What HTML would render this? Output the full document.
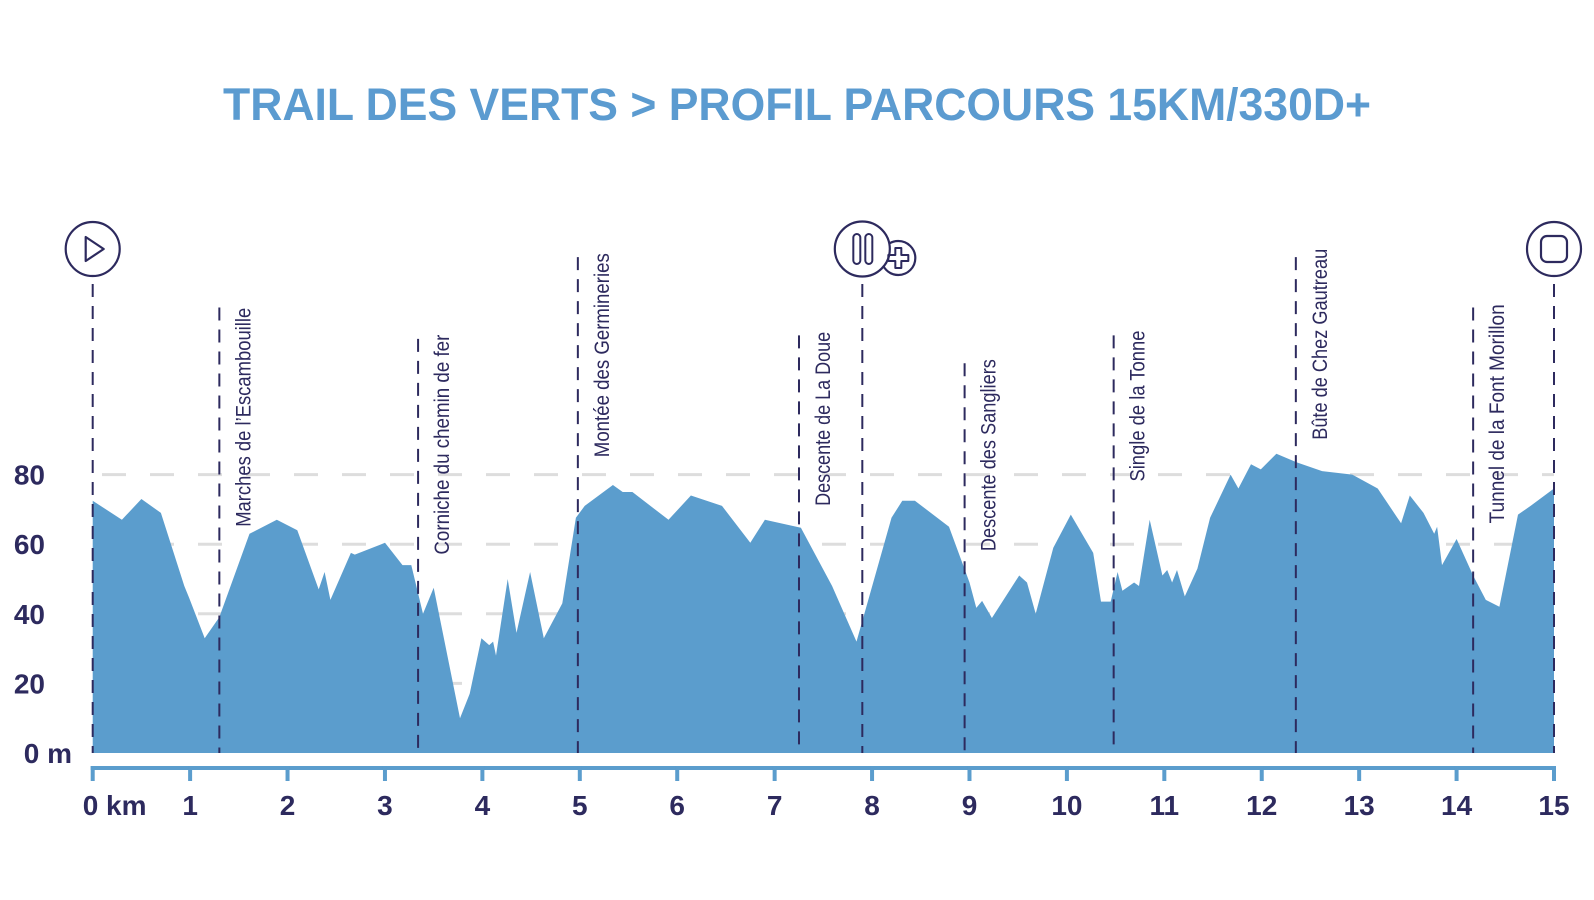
<!DOCTYPE html>
<html><head><meta charset="utf-8"><style>
html,body{margin:0;padding:0;background:#fff;width:1594px;height:900px;overflow:hidden}
svg{display:block}
</style></head><body>
<svg id="chart" width="1594" height="900" viewBox="0 0 1594 900">
<text x="797" y="120" text-anchor="middle" font-family="'Liberation Sans',sans-serif" font-weight="bold" font-size="45" fill="#5b9bd0" textLength="1148" lengthAdjust="spacingAndGlyphs">TRAIL DES VERTS &gt; PROFIL PARCOURS 15KM/330D+</text>
<g id="grid"></g>
<g id="area"></g>
<g id="markers"></g>
<g id="axes"></g>
<g id="icons"></g>
</svg>
<script>
const km = [0,0.3,0.5,0.7,0.94,0.99,1.15,1.3,1.61,1.89,2.1,2.32,2.38,2.44,2.65,2.69,3.0,3.18,3.27,3.39,3.5,3.77,3.87,3.99,4.07,4.11,4.14,4.26,4.35,4.49,4.63,4.82,4.96,5.05,5.34,5.44,5.54,5.91,6.14,6.46,6.75,6.9,7.27,7.59,7.84,8.2,8.31,8.44,8.79,9.0,9.07,9.13,9.23,9.51,9.59,9.68,9.86,10.04,10.27,10.35,10.45,10.52,10.57,10.69,10.74,10.85,10.98,11.03,11.08,11.13,11.21,11.34,11.47,11.68,11.76,11.89,11.99,12.15,12.36,12.62,12.93,13.19,13.43,13.52,13.66,13.77,13.8,13.85,14.0,14.17,14.3,14.44,14.63,14.76,15];
const elev = [72.5,67,73,69,48,44.6,33,39,63,67,64,47,52,44,57.5,57,60.4,54,54,40,47.5,10,17,33,31,32,28,50,34.5,52,33,43,67.6,71,77,75,75,67,74,71,60.4,67,64.7,48,32,67.6,72.5,72.5,65,49,41.7,43.7,38.8,51,49,40,59,68.5,57.5,43.5,43.5,52,46.6,49,48,67,51,52.6,49,52.6,45,53,67.6,80,76,83,81.5,86,83.5,81,80,76,66,74,69,63,65,54,61.5,51,44,42,68.5,71,76];
const yTicks = [0,20,40,60,80];
const xTicks = [0,1,2,3,4,5,6,7,8,9,10,11,12,13,14,15];
const markerKm = [1.3,3.34,4.98,7.25,8.95,10.48,12.35,14.17];
const markerLabels = ["Marches de l\u2019Escambouille","Corniche du chemin de fer","Mont\u00e9e des Germineries","Descente de La Doue","Descente des Sangliers","Single de la Tonne","B\u00fbte de Chez Gautreau","Tunnel de la Font Morillon"];
const markerTopM = [128,119,142.5,120,112,120,142.5,128];
const labelBottomM = [65,57,85,71,58,78,90,66];

const NS="http://www.w3.org/2000/svg";
const X0=92.7,X1=1554,Y0=753,PXM=3.48;
const sx=k=>X0+(X1-X0)*k/15;
const sy=m=>Y0-m*PXM;
const dark="#2d2a5e",blue="#5b9dcd";
const labelPx=[219,220,204,174,192,151,191,219];
function mk(tag,attrs,parent){const e=document.createElementNS(NS,tag);for(const k in attrs)e.setAttribute(k,attrs[k]);parent.appendChild(e);return e;}
const grid=document.getElementById('grid'),area=document.getElementById('area'),markers=document.getElementById('markers'),axes=document.getElementById('axes'),icons=document.getElementById('icons');

yTicks.forEach(v=>{
  if(v>0){const l=mk('line',{x1:102,x2:X1,y1:sy(v),y2:sy(v),stroke:'#dddddd','stroke-width':3,'stroke-dasharray':'24 24'},grid);
  
  }
  const t=mk('text',{x:v===0?72:45,y:sy(v)+10,'text-anchor':'end','font-family':"'Liberation Sans',sans-serif",'font-weight':'bold','font-size':28,fill:dark},axes);
  t.textContent=v===0?'0 m':String(v);
  
  
});

let d='M'+sx(km[0])+','+sy(0);
km.forEach((k,i)=>{d+=' L'+sx(k).toFixed(1)+','+sy(elev[i]).toFixed(1);});
d+=' L'+sx(km[km.length-1])+','+sy(0)+' Z';
const p=mk('path',{d:d,fill:blue},area);



[[0,'start-line'],[7.9,'pause-line'],[15,'end-line']].forEach(([k,n])=>{
  const l=mk('line',{x1:sx(k),x2:sx(k),y1:284,y2:Y0,stroke:dark,'stroke-width':2,'stroke-dasharray':'13 9'},markers);
  
  
});
markerKm.forEach((k,i)=>{
  const x=sx(k);
  const l=mk('line',{x1:x,x2:x,y1:sy(markerTopM[i]),y2:Y0,stroke:dark,'stroke-width':2,'stroke-dasharray':'13 9'},markers);
  
  
  const yb=sy(labelBottomM[i]);
  const t=mk('text',{x:0,y:0,transform:'translate('+(x+31)+','+yb+') rotate(-90)','font-family':"'Liberation Sans Narrow','Liberation Sans',sans-serif",'font-size':21,fill:dark,textLength:labelPx[i],lengthAdjust:'spacingAndGlyphs'},markers);
  t.textContent=markerLabels[i];
  
  
});

const ax=mk('line',{x1:X0-2,x2:X1+2,y1:768,y2:768,stroke:blue,'stroke-width':4},axes);


xTicks.forEach(v=>{
  const x=sx(v);
  const tk=mk('line',{x1:x,x2:x,y1:766,y2:781,stroke:blue,'stroke-width':4},axes);
  
  
  const t=mk('text',{x:v===0?x-10:x,y:815,'text-anchor':v===0?'start':'middle','font-family':"'Liberation Sans',sans-serif",'font-weight':'bold','font-size':28,fill:dark},axes);
  t.textContent=v===0?'0 km':String(v);
  
  
});

function circ(cx,cy,r,name){const c=mk('circle',{cx:cx,cy:cy,r:r,fill:'#fff',stroke:dark,'stroke-width':2.2},icons);return c;}
const sX=sx(0),pX=sx(7.9),eX=sx(15),IY=249;
circ(sX,IY,27,'start-icon');
const tri=mk('path',{d:`M${sX-7},${IY-12} L${sX+11},${IY} L${sX-7},${IY+12} Z`,fill:'none',stroke:dark,'stroke-width':2.2,'stroke-linejoin':'round'},icons);


circ(pX+36,IY+9,17,'refreshment-plus-icon');
circ(pX,IY,27.5,'pause-icon');
[-9,3].forEach(o=>{const r=mk('rect',{x:pX+o,y:IY-15,width:7,height:30,rx:3.5,fill:'none',stroke:dark,'stroke-width':2},icons);});
const plus=mk('path',{d:`M${pX+33},${IY-1} h6 v7 h7 v6 h-7 v7 h-6 v-7 h-7 v-6 h7 Z`,fill:'none',stroke:dark,'stroke-width':2,'stroke-linejoin':'round'},icons);


circ(eX,IY,27,'finish-icon');
const sq=mk('rect',{x:eX-13,y:IY-13,width:26,height:26,rx:6,fill:'none',stroke:dark,'stroke-width':2.2},icons);


</script>
</body></html>
